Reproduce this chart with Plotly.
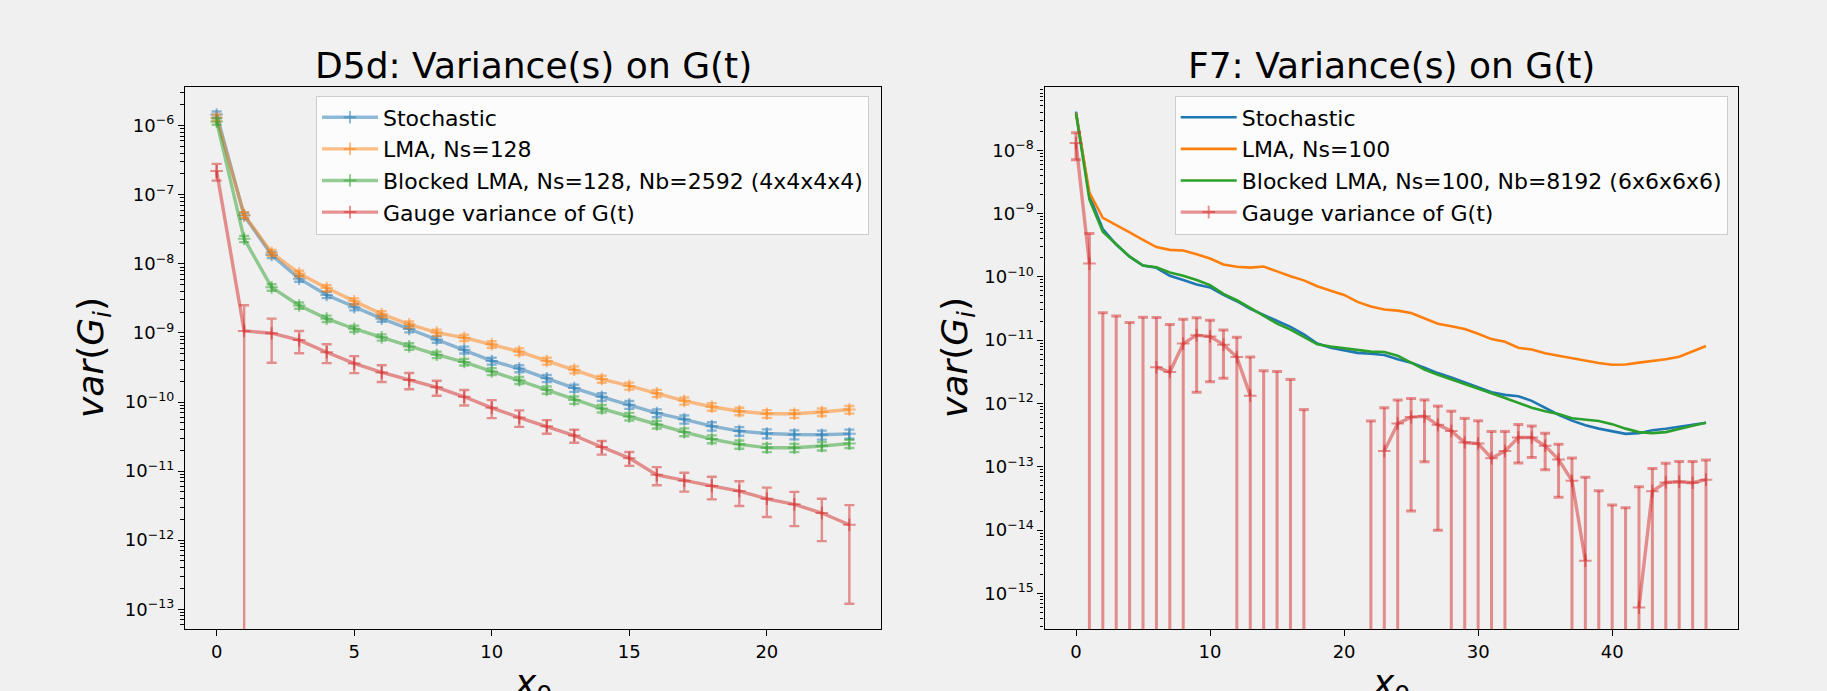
import plotly.graph_objects as go

# ---------------- data: D5d (left panel) ----------------
x_d5d = list(range(24))
d5d_stoch = [1.45e-6, 5.0e-8, 1.34e-8, 6.1e-9, 3.54e-9, 2.36e-9, 1.61e-9, 1.14e-9, 8.05e-10, 5.69e-10,
             3.93e-10, 3.05e-10, 2.2e-10, 1.59e-10, 1.19e-10, 9.15e-11, 6.92e-11, 5.62e-11, 4.47e-11,
             3.79e-11, 3.5e-11, 3.38e-11, 3.35e-11, 3.46e-11]
d5d_stoch_err = [1.5e-7, 5e-9, 1.3e-9, 6e-10, 3.5e-10, 2.4e-10, 1.6e-10, 1.2e-10, 8.5e-11, 6.5e-11,
                 4.5e-11, 3.5e-11, 2.6e-11, 1.9e-11, 1.5e-11, 1.2e-11, 9e-12, 7.5e-12, 6.2e-12,
                 5.4e-12, 5.2e-12, 5.0e-12, 5.0e-12, 5.2e-12]
d5d_lma = [1.3e-6, 5.1e-8, 1.45e-8, 7.25e-9, 4.46e-9, 2.87e-9, 1.87e-9, 1.33e-9, 1.01e-9, 8.53e-10,
           6.84e-10, 5.37e-10, 3.93e-10, 2.94e-10, 2.15e-10, 1.71e-10, 1.34e-10, 1.04e-10, 8.53e-11,
           7.34e-11, 6.76e-11, 6.76e-11, 7.16e-11, 7.78e-11]
d5d_lma_err = [1.4e-7, 5e-9, 1.4e-9, 7e-10, 4.4e-10, 2.9e-10, 1.9e-10, 1.35e-10, 1.05e-10, 9e-11,
               7.5e-11, 6e-11, 4.5e-11, 3.4e-11, 2.5e-11, 2.0e-11, 1.6e-11, 1.25e-11, 1.05e-11,
               9.2e-12, 8.6e-12, 8.6e-12, 9e-12, 9.8e-12]
d5d_blma = [1.15e-6, 2.3e-8, 4.57e-9, 2.5e-9, 1.61e-9, 1.15e-9, 8.63e-10, 6.38e-10, 4.84e-10, 3.79e-10,
            2.77e-10, 2.06e-10, 1.5e-10, 1.07e-10, 8.05e-11, 6.17e-11, 4.73e-11, 3.67e-11, 2.91e-11,
            2.44e-11, 2.18e-11, 2.18e-11, 2.31e-11, 2.5e-11]
d5d_blma_err = [1.2e-7, 2.4e-9, 5e-10, 2.6e-10, 1.7e-10, 1.2e-10, 9e-11, 7e-11, 5.3e-11, 4.2e-11,
                3.2e-11, 2.4e-11, 1.8e-11, 1.3e-11, 1e-11, 7.8e-12, 6e-12, 4.8e-12, 3.8e-12,
                3.3e-12, 3e-12, 3e-12, 3.2e-12, 3.4e-12]
d5d_gauge = [2.2e-7, 1.07e-9, 9.9e-10, 7.87e-10, 5.25e-10, 3.62e-10, 2.68e-10, 2.08e-10, 1.63e-10,
             1.19e-10, 8.24e-11, 5.96e-11, 4.47e-11, 3.27e-11, 2.23e-11, 1.54e-11, 8.83e-12, 7.25e-12,
             6.1e-12, 5.13e-12, 3.97e-12, 3.3e-12, 2.47e-12, 1.67e-12]
d5d_gauge_err = [6e-8, 1.45e-9, 6.2e-10, 2.8e-10, 1.6e-10, 1.0e-10, 7.3e-11, 5.5e-11, 4e-11, 3e-11,
                 2.4e-11, 1.6e-11, 1.0e-11, 7e-12, 5e-12, 3.5e-12, 2.6e-12, 2.2e-12, 2.2e-12,
                 2.0e-12, 1.8e-12, 1.7e-12, 1.5e-12, 1.55e-12]

# ---------------- data: F7 (right panel) ----------------
x_f7 = list(range(48))
f7_stoch = [4.07e-8, 1.89e-9, 5.69e-10, 3.24e-10, 2.08e-10, 1.51e-10, 1.39e-10, 1.04e-10, 8.9e-11, 7.6e-11,
            6.8e-11, 5.18e-11, 4.12e-11, 3.12e-11, 2.51e-11, 2.01e-11, 1.62e-11, 1.24e-11, 8.83e-12,
            7.59e-12, 6.87e-12, 6.3e-12, 6.1e-12, 5.82e-12, 5.0e-12, 4.42e-12, 3.66e-12, 3.02e-12,
            2.57e-12, 2.15e-12, 1.82e-12, 1.51e-12, 1.37e-12, 1.3e-12, 1.1e-12, 8.55e-13, 6.64e-13,
            5.36e-13, 4.55e-13, 4.01e-13, 3.62e-13, 3.32e-13, 3.4e-13, 3.77e-13, 4.0e-13, 4.27e-13,
            4.55e-13, 4.97e-13]
f7_lma = [3.9e-8, 2.14e-9, 8.53e-10, 6.62e-10, 5.02e-10, 3.85e-10, 2.95e-10, 2.67e-10, 2.61e-10, 2.27e-10,
          1.95e-10, 1.57e-10, 1.44e-10, 1.4e-10, 1.46e-10, 1.22e-10, 1.02e-10, 8.8e-11, 7.1e-11,
          6.02e-11, 5.18e-11, 4.02e-11, 3.4e-11, 3.05e-11, 2.93e-11, 2.68e-11, 2.19e-11, 1.82e-11,
          1.66e-11, 1.5e-11, 1.26e-11, 1.04e-11, 9.42e-12, 7.59e-12, 7.13e-12, 6.21e-12, 5.68e-12,
          5.2e-12, 4.7e-12, 4.36e-12, 4.09e-12, 4.14e-12, 4.42e-12, 4.7e-12, 5.01e-12, 5.47e-12,
          6.7e-12, 8.09e-12]
f7_blma = [3.8e-8, 1.67e-9, 5.15e-10, 3.24e-10, 2.08e-10, 1.51e-10, 1.42e-10, 1.17e-10, 1.04e-10, 8.9e-11,
           7.4e-11, 5.37e-11, 4.27e-11, 3.24e-11, 2.43e-11, 1.82e-11, 1.47e-11, 1.14e-11, 8.6e-12,
           7.95e-12, 7.5e-12, 7.08e-12, 6.6e-12, 6.5e-12, 5.68e-12, 4.42e-12, 3.43e-12, 2.84e-12,
           2.41e-12, 2.07e-12, 1.75e-12, 1.45e-12, 1.22e-12, 1.01e-12, 8.55e-13, 7.54e-13, 6.81e-13,
           5.86e-13, 5.5e-13, 5.3e-13, 4.72e-13, 4.01e-13, 3.53e-13, 3.4e-13, 3.53e-13, 4.01e-13,
           4.44e-13, 4.97e-13]
# gauge variance: non-positive estimates are not drawn on the log axis
f7_gauge = [1.3e-8, 1.62e-10, -1e-11, -1e-11, -1e-11, -1e-11, 3.74e-12, 3.14e-12, 8.83e-12, 1.2e-11,
            1.14e-11, 8.5e-12, 5.4e-12, 1.33e-12, -1e-12, -1e-12, -1e-12, -1e-12, -2e-12, -2e-12,
            -2e-12, -2e-12, -5e-13, 1.77e-13, 4.84e-13, 6.1e-13, 6.3e-13, 4.6e-13, 3.67e-13, 2.42e-13,
            2.33e-13, 1.37e-13, 1.77e-13, 2.9e-13, 2.9e-13, 2.15e-13, 1.3e-13, 6.04e-14, 3.3e-15,
            -2e-14, -2e-14, -2e-14, 6e-16, 4.13e-14, 5.66e-14, 5.8e-14, 5.6e-14, 6.27e-14]
f7_gauge_err = [5.9e-9, 3.2e-10, 3.7e-11, 3.4e-11, 2.9e-11, 3.3e-11, 1.9e-11, 1.46e-11, 1.26e-11, 1.05e-11,
                9.2e-12, 6.0e-12, 5.7e-12, 4.1e-12, 4.3e-12, 4.2e-12, 3.4e-12, 1.8e-12, 1.5e-12, 1.5e-12,
                1.5e-12, 1.5e-12, 1.03e-12, 6.8e-13, 6.5e-13, 5.9e-13, 5.1e-13, 4.5e-13, 3.9e-13, 3.4e-13,
                3.0e-13, 2.25e-13, 1.85e-13, 1.75e-13, 1.5e-13, 1.25e-13, 9.7e-14, 7.7e-14, 6.5e-14,
                6.2e-14, 4.5e-14, 4.25e-14, 4.8e-14, 5.3e-14, 5.7e-14, 6.3e-14, 6.5e-14, 6.6e-14]

titles = ["D5d: Variance(s) on G(t)", "F7: Variance(s) on G(t)"]
names_d5d = ["Stochastic", "LMA, Ns=128", "Blocked LMA, Ns=128, Nb=2592 (4x4x4x4)", "Gauge variance of G(t)"]
names_f7 = ["Stochastic", "LMA, Ns=100", "Blocked LMA, Ns=100, Nb=8192 (6x6x6x6)", "Gauge variance of G(t)"]
xticks_d5d = [0, 5, 10, 15, 20]
xticks_f7 = [0, 10, 20, 30, 40]
ydecades_d5d = list(range(-13, -5))
ydecades_f7 = list(range(-15, -7))

# ---------------- styling / geometry ----------------
W, H = 1827, 691
L_X0, L_X1 = 185.0, 881.0
R_X0, R_X1 = 1044.5, 1737.5
Y_TOP, Y_BOT = 86.7, 629.3
YR_L = [-13.29, -5.436]
YR_R = [-15.566, -6.997]
XR_L = [-1.15, 24.15]
XR_R = [-2.35, 49.35]
FONT = "DejaVu Sans"
BG = "#f0f0f0"

COL = {"blue": (31, 119, 180), "orange": (255, 127, 14), "green": (44, 160, 44), "red": (214, 39, 40)}


def rgba(c, a):
    r, g, b = COL[c]
    return f"rgba({r},{g},{b},{a})"


fig = go.Figure()

# ---- left panel: all with error bars, alpha 0.5 ----
for yv, ev, nm, c in zip([d5d_stoch, d5d_lma, d5d_blma, d5d_gauge],
                         [d5d_stoch_err, d5d_lma_err, d5d_blma_err, d5d_gauge_err],
                         names_d5d, ["blue", "orange", "green", "red"]):
    fig.add_trace(go.Scatter(
        x=x_d5d, y=yv, name=nm, mode="lines+markers",
        line=dict(color=rgba(c, 0.5), width=3.4),
        marker=dict(symbol="cross-thin", size=9, line=dict(color=rgba(c, 0.5), width=2)),
        error_y=dict(type="data", array=ev, color=rgba(c, 0.5), thickness=2.4, width=5),
        xaxis="x", yaxis="y", legend="legend"))

# ---- right panel: plain lines ----
for yv, nm, c in zip([f7_stoch, f7_lma, f7_blma], names_f7[:3], ["blue", "orange", "green"]):
    fig.add_trace(go.Scatter(
        x=x_f7, y=yv, name=nm, mode="lines",
        line=dict(color=rgba(c, 1), width=2.6),
        xaxis="x2", yaxis="y2", legend="legend2"))

# gauge variance error bars (manual so that bars of non-positive points are still drawn)
cap = 0.37
below = 10 ** (YR_R[0] - 3)
ex, ey = [], []
for xi, v, e in zip(x_f7, f7_gauge, f7_gauge_err):
    hi = v + e
    if hi <= 0:
        continue
    lo = v - e
    ex += [xi, xi, None, xi - cap, xi + cap, None]
    ey += [lo if lo > 0 else below, hi, None, hi, hi, None]
    if lo > 0:
        ex += [xi - cap, xi + cap, None]
        ey += [lo, lo, None]
fig.add_trace(go.Scatter(x=ex, y=ey, mode="lines", showlegend=False, hoverinfo="skip",
                         line=dict(color=rgba("red", 0.5), width=3.0),
                         xaxis="x2", yaxis="y2"))
fig.add_trace(go.Scatter(
    x=x_f7, y=[v if v > 0 else None for v in f7_gauge], name=names_f7[3], mode="lines+markers",
    connectgaps=False,
    line=dict(color=rgba("red", 0.5), width=3.4),
    marker=dict(symbol="cross-thin", size=9, line=dict(color=rgba("red", 0.5), width=2)),
    xaxis="x2", yaxis="y2", legend="legend2"))


def minor_vals(dec):
    out = []
    for d in range(dec[0] - 1, dec[-1] + 2):
        for k in range(2, 10):
            out.append(k * 10.0 ** d)
    return out


def yaxis_cfg(rng, decs, dom_anchor):
    return dict(type="log", range=rng, domain=[1 - Y_BOT / H, 1 - Y_TOP / H], anchor=dom_anchor,
                tickmode="array", tickvals=[10.0 ** d for d in decs],
                ticktext=[f"10<sup>\u2212{-d}</sup>" for d in decs],
                ticks="outside", ticklen=6, tickwidth=1.3, tickcolor="black",
                minor=dict(tickmode="array", tickvals=minor_vals(decs), ticks="outside",
                           ticklen=3.5, tickwidth=1, tickcolor="black", showgrid=False),
                showline=True, linecolor="black", linewidth=1.3, mirror=True,
                showgrid=False, zeroline=False, automargin=False,
                tickfont=dict(family=FONT, size=18, color="black"))


def xaxis_cfg(rng, x0, x1, ticks, dom_anchor):
    return dict(range=rng, domain=[x0 / W, x1 / W], anchor=dom_anchor,
                tickmode="array", tickvals=ticks, ticktext=[str(t) for t in ticks],
                ticks="outside", ticklen=6, tickwidth=1.3, tickcolor="black",
                showline=True, linecolor="black", linewidth=1.3, mirror=True,
                showgrid=False, zeroline=False, automargin=False,
                tickfont=dict(family=FONT, size=18, color="black"))


legend_common = dict(bgcolor="rgba(255,255,255,0.8)", bordercolor="#cccccc", borderwidth=1,
                     font=dict(family=FONT, size=22, color="black"), itemwidth=56,
                     xanchor="right", yanchor="top", y=1 - 95.5 / H)

fig.update_layout(
    width=W, height=H, template="none",
    margin=dict(l=0, r=0, t=0, b=0), autosize=False,
    paper_bgcolor=BG, plot_bgcolor=BG,
    font=dict(family=FONT, color="black"),
    xaxis=xaxis_cfg(XR_L, L_X0, L_X1, xticks_d5d, "y"),
    yaxis=yaxis_cfg(YR_L, ydecades_d5d, "x"),
    xaxis2=xaxis_cfg(XR_R, R_X0, R_X1, xticks_f7, "y2"),
    yaxis2=yaxis_cfg(YR_R, ydecades_f7, "x2"),
    legend=dict(**legend_common, x=869 / W),
    legend2=dict(**legend_common, x=1727.7 / W),
    showlegend=True,
)

annots = []
for cx, t in zip([(L_X0 + L_X1) / 2, (R_X0 + R_X1) / 2], titles):
    annots.append(dict(text=t, x=cx / W, y=1 - 42.6 / H, xref="paper", yref="paper",
                       xanchor="center", yanchor="top", showarrow=False,
                       font=dict(family=FONT, size=36, color="black")))
    annots.append(dict(text="<i>x</i><sub>0</sub>", x=cx / W, y=1 - 659.6 / H, xref="paper", yref="paper",
                       xanchor="center", yanchor="top", showarrow=False,
                       font=dict(family=FONT, size=36, color="black")))
for lx in [93, 957]:
    annots.append(dict(text="<i>var</i>(<i>G<sub>i</sub></i>)", x=lx / W, y=1 - 358 / H,
                       xref="paper", yref="paper", xanchor="center", yanchor="middle",
                       textangle=-90, showarrow=False,
                       font=dict(family=FONT, size=36, color="black")))
fig.update_layout(annotations=annots)

fig.write_html("out.html", config={"displayModeBar": False},
               post_script="document.body.style.margin='0';document.body.style.padding='0';"
                           "document.body.style.background='#f0f0f0';"
                           "document.documentElement.style.overflow='hidden';")
